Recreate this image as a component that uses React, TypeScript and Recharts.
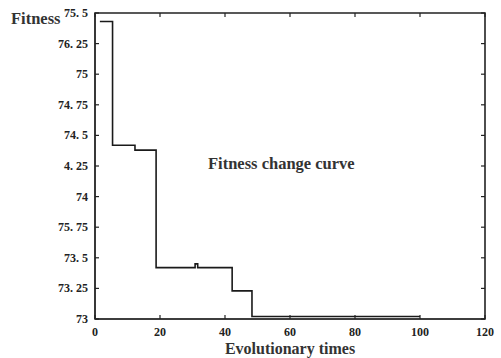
import React from "react";
import { LineChart, Line, XAxis, YAxis, Label, ReferenceArea } from "recharts";

const generations = [1.5, 5.4, 12.3, 18.8, 30.8, 31.6, 42.2, 48.3, 100];
const fitness = [75.43, 74.42, 74.38, 73.42, 73.45, 73.42, 73.23, 73.02, 73.02];
const xTicks = [0, 20, 40, 60, 80, 100, 120];
const yTicks = [73, 73.25, 73.5, 73.75, 74, 74.25, 74.5, 74.75, 75, 75.25, 75.5];
const yTickLabels = ["73", "73. 25", "73. 5", "75. 75", "74", "4. 25", "74. 5", "74. 75", "75", "76. 25", "75. 5"];

const data = generations.map((g, i) => ({ g, f: fitness[i] }));

const FONT = "'Liberation Serif', 'DejaVu Serif', serif";
const INK = "#222";
const W = 501;
const H = 358;
const M = { top: 13, right: 16, bottom: 0, left: 0 };
const PLOT_TOP = M.top;
const PLOT_RIGHT = W - M.right;
const TICK_LEN = 4;
const MARGIN_X = 10;
const MARGIN_Y = 7;

function XTick(props: any) {
  const { x, y, payload } = props;
  const axisY = y - MARGIN_X;
  return (
    <g>
      <line x1={x} x2={x} y1={axisY} y2={axisY - TICK_LEN} stroke={INK} strokeWidth={1.2} />
      <line x1={x} x2={x} y1={PLOT_TOP} y2={PLOT_TOP + TICK_LEN} stroke={INK} strokeWidth={1.2} />
      <text x={x} y={y} dy={7} textAnchor="middle" fontFamily={FONT} fontSize={12} fontWeight={700} fill={INK}>
        {payload.value}
      </text>
    </g>
  );
}

function YTick(props: any) {
  const { x, y, payload } = props;
  const axisX = x + MARGIN_Y;
  const label = yTickLabels[yTicks.indexOf(payload.value)] ?? String(payload.value);
  return (
    <g>
      <line x1={axisX} x2={axisX + TICK_LEN} y1={y} y2={y} stroke={INK} strokeWidth={1.2} />
      <line x1={PLOT_RIGHT} x2={PLOT_RIGHT - TICK_LEN} y1={y} y2={y} stroke={INK} strokeWidth={1.2} />
      <text x={x} y={y} dy={4} textAnchor="end" fontFamily={FONT} fontSize={12} fontWeight={700} fill={INK}>
        {label}
      </text>
    </g>
  );
}

export default function App() {
  return (
    <div style={{ position: "absolute", left: 0, top: 0, width: W, height: H, background: "#fff" }}>
      <LineChart width={W} height={H} data={data} margin={M}>
        <ReferenceArea x1={0} x2={120} y1={73} y2={75.5} fill="none" stroke={INK} strokeWidth={1.6} ifOverflow="visible" />
        <XAxis
          dataKey="g"
          type="number"
          domain={[0, 120]}
          ticks={xTicks}
          height={39}
          stroke={INK}
          tickLine={false}
          tickSize={0}
          tickMargin={MARGIN_X}
          tick={<XTick />}
        >
          <Label value="Evolutionary times" position="insideBottom" offset={4}
            style={{ fontFamily: FONT, fontSize: 16, fontWeight: 700, fill: "#333" }} />
        </XAxis>
        <YAxis
          type="number"
          domain={[73, 75.5]}
          ticks={yTicks}
          width={95}
          stroke={INK}
          tickLine={false}
          tickSize={0}
          tickMargin={MARGIN_Y}
          tick={<YTick />}
        />
        <Line dataKey="f" type="stepAfter" stroke="#1a1a1a" strokeWidth={1.6} dot={false} isAnimationActive={false} />
      </LineChart>
      <div style={{ position: "absolute", left: 11, top: 9, fontFamily: FONT, fontSize: 16.5, fontWeight: 700, color: "#333" }}>
        Fitness
      </div>
      <div style={{ position: "absolute", left: 208, top: 154, fontFamily: FONT, fontSize: 16.5, fontWeight: 700, color: "#333" }}>
        Fitness change curve
      </div>
    </div>
  );
}
